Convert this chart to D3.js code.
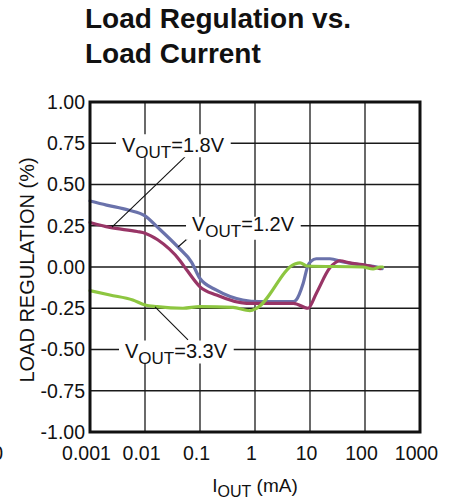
<!DOCTYPE html>
<html>
<head>
<meta charset="utf-8">
<script src="https://cdn.jsdelivr.net/npm/d3@7/dist/d3.min.js"></script>
<style>
  html, body { margin: 0; padding: 0; background: #fff; }
  svg { display: block; font-family: "Liberation Sans", Arial, Helvetica, sans-serif; }
</style>
</head>
<body>
<svg id="chart" width="451" height="500"></svg>
<script>
// ---- data ----
const titleLines = ["Load Regulation vs.", "Load Current"];
const xTickValues = [0.001, 0.01, 0.1, 1, 10, 100, 1000];
const xTickLabels = ["0.001", "0.01", "0.1", "1", "10", "100", "1000"];
const yTickValues = [1.00, 0.75, 0.50, 0.25, 0.00, -0.25, -0.50, -0.75, -1.00];

// VOUT = 1.8V (blue)
const i18 = [0.001, 0.002, 0.005, 0.01, 0.017, 0.04, 0.07, 0.1, 0.2, 0.6, 1.2, 5, 5.6, 7.5, 9.2, 10.5, 13, 23, 40, 90, 165, 205];
const v18 = [0.40, 0.375, 0.345, 0.31, 0.24, 0.12, 0.03, -0.07, -0.14, -0.20, -0.21, -0.21, -0.20, -0.10, 0.01, 0.035, 0.05, 0.05, 0.03, 0.012, 0.0, -0.01];
// VOUT = 1.2V (purple)
const i12 = [0.001, 0.0023, 0.0072, 0.01, 0.017, 0.043, 0.058, 0.1, 0.2, 0.7, 1, 5, 9.2, 13, 23, 35, 53, 90, 190];
const v12 = [0.27, 0.24, 0.215, 0.205, 0.165, 0.04, -0.02, -0.12, -0.17, -0.22, -0.22, -0.22, -0.25, -0.16, -0.005, 0.038, 0.025, 0.015, -0.01];
// VOUT = 3.3V (green)
const i33 = [0.001, 0.0023, 0.006, 0.01, 0.0165, 0.049, 0.1, 0.4, 0.81, 1.07, 5.3, 6.6, 8.8, 91, 140, 187, 210];
const v33 = [-0.143, -0.17, -0.20, -0.23, -0.24, -0.25, -0.24, -0.245, -0.265, -0.25, 0.018, 0.025, 0.006, 0.0, -0.012, 0.0, 0.0];

const seriesNames = ["1.8V", "1.2V", "3.3V"];

// ---- layout / style ----
const W = 451, H = 500;
const plot = { left: 90, right: 420, top: 102, bottom: 432 };
const colors = { "1.8V": "#6a72ab", "1.2V": "#983566", "3.3V": "#8dc640" };

const svg = d3.select("#chart");
const x = d3.scaleLog().domain([0.001, 1000]).range([plot.left, plot.right]);
const y = d3.scaleLinear().domain([-1, 1]).range([plot.bottom, plot.top]);

// title
svg.append("g").selectAll("text").data(titleLines).join("text")
  .attr("x", 85).attr("y", (d, i) => 28 + i * 35)
  .attr("font-size", 28).attr("font-weight", "bold").attr("fill", "#111")
  .text(d => d);

// grid
const grid = svg.append("g").attr("stroke", "#1a1a1a").attr("stroke-width", 1.3);
grid.selectAll("line.v").data(xTickValues).join("line")
  .attr("x1", d => x(d)).attr("x2", d => x(d))
  .attr("y1", plot.top).attr("y2", plot.bottom);
grid.selectAll("line.h").data(yTickValues).join("line")
  .attr("y1", d => y(d)).attr("y2", d => y(d))
  .attr("x1", plot.left).attr("x2", plot.right);

// axes labels
const yAxis = d3.axisLeft(y).tickValues(yTickValues).tickSize(0).tickPadding(5)
  .tickFormat(d => d.toFixed(2));
const gy = svg.append("g").attr("transform", `translate(${plot.left},0)`).call(yAxis);
gy.select(".domain").remove();
gy.selectAll("text").attr("font-size", 19.5).attr("fill", "#111")
  .attr("font-family", "Liberation Sans, Arial, sans-serif");

const xAxis = d3.axisBottom(x).tickValues(xTickValues).tickSize(0)
  .tickFormat((d, i) => xTickLabels[i]);
const gx = svg.append("g").attr("transform", `translate(0,${plot.bottom})`).call(xAxis);
gx.select(".domain").remove();
gx.selectAll("text").attr("font-size", 19.5).attr("fill", "#111")
  .attr("font-family", "Liberation Sans, Arial, sans-serif")
  .attr("y", 28).attr("dy", 0).attr("dx", -4);

// clipped stray glyph at left edge
svg.append("text").attr("x", 3).attr("y", 460).attr("text-anchor", "end")
  .attr("font-size", 19.5).attr("fill", "#111").text("0");

// axis titles
svg.append("text")
  .attr("transform", `translate(34,${(plot.top + plot.bottom) / 2 + 3}) rotate(-90)`)
  .attr("text-anchor", "middle").attr("font-size", 20).attr("fill", "#111")
  .text("LOAD REGULATION (%)");

const xt = svg.append("text").attr("x", (plot.left + plot.right) / 2).attr("y", 492)
  .attr("text-anchor", "middle").attr("font-size", 19).attr("fill", "#111");
xt.append("tspan").text("I");
xt.append("tspan").attr("font-size", 16).attr("dy", 5).text("OUT");
xt.append("tspan").attr("dy", -5).text(" (mA)");

// curves
const series = [
  { name: "1.8V", xs: i18, ys: v18 },
  { name: "1.2V", xs: i12, ys: v12 },
  { name: "3.3V", xs: i33, ys: v33 }
];
const line = d3.line().x(d => x(d[0])).y(d => y(d[1])).curve(d3.curveMonotoneX);
svg.append("g").selectAll("path").data(series).join("path")
  .attr("d", s => line(s.xs.map((v, i) => [v, s.ys[i]])))
  .attr("fill", "none")
  .attr("stroke", s => colors[s.name])
  .attr("stroke-width", 3.2)
  .attr("stroke-linejoin", "round").attr("stroke-linecap", "round");

// annotations (positions in data units)
const annotations = [
  { label: "1.8V", tx: 0.00382, ty: 0.75, base: 9,  lead: [[0.0533, 0.667], [0.00251, 0.242]] },
  { label: "1.2V", tx: 0.0716,  ty: 0.25, base: 5,  lead: [[0.0811, 0.212], [0.0398, 0.121]] },
  { label: "3.3V", tx: 0.00433, ty: -0.5, base: 8,  lead: [[0.0152, -0.242], [0.0605, -0.442]] }
];
const ag = svg.append("g");
annotations.forEach(a => {
  ag.append("line")
    .attr("x1", x(a.lead[0][0])).attr("y1", y(a.lead[0][1]))
    .attr("x2", x(a.lead[1][0])).attr("y2", y(a.lead[1][1]))
    .attr("stroke", "#111").attr("stroke-width", 1.1);
  const g = ag.append("g");
  const rect = g.append("rect").attr("fill", "#fff");
  const t = g.append("text").attr("x", x(a.tx)).attr("y", y(a.ty) + a.base)
    .attr("font-size", 20).attr("fill", "#111");
  t.append("tspan").text("V");
  t.append("tspan").attr("font-size", 17).attr("dy", 6).text("OUT");
  t.append("tspan").attr("dy", -6).text("=" + a.label);
  const bb = t.node().getBBox();
  rect.attr("x", bb.x - 6).attr("y", y(a.ty) - 9).attr("width", bb.width + 12).attr("height", 23);
});

// frame
svg.append("rect")
  .attr("x", plot.left).attr("y", plot.top)
  .attr("width", plot.right - plot.left).attr("height", plot.bottom - plot.top)
  .attr("fill", "none").attr("stroke", "#111").attr("stroke-width", 3);
</script>
</body>
</html>
